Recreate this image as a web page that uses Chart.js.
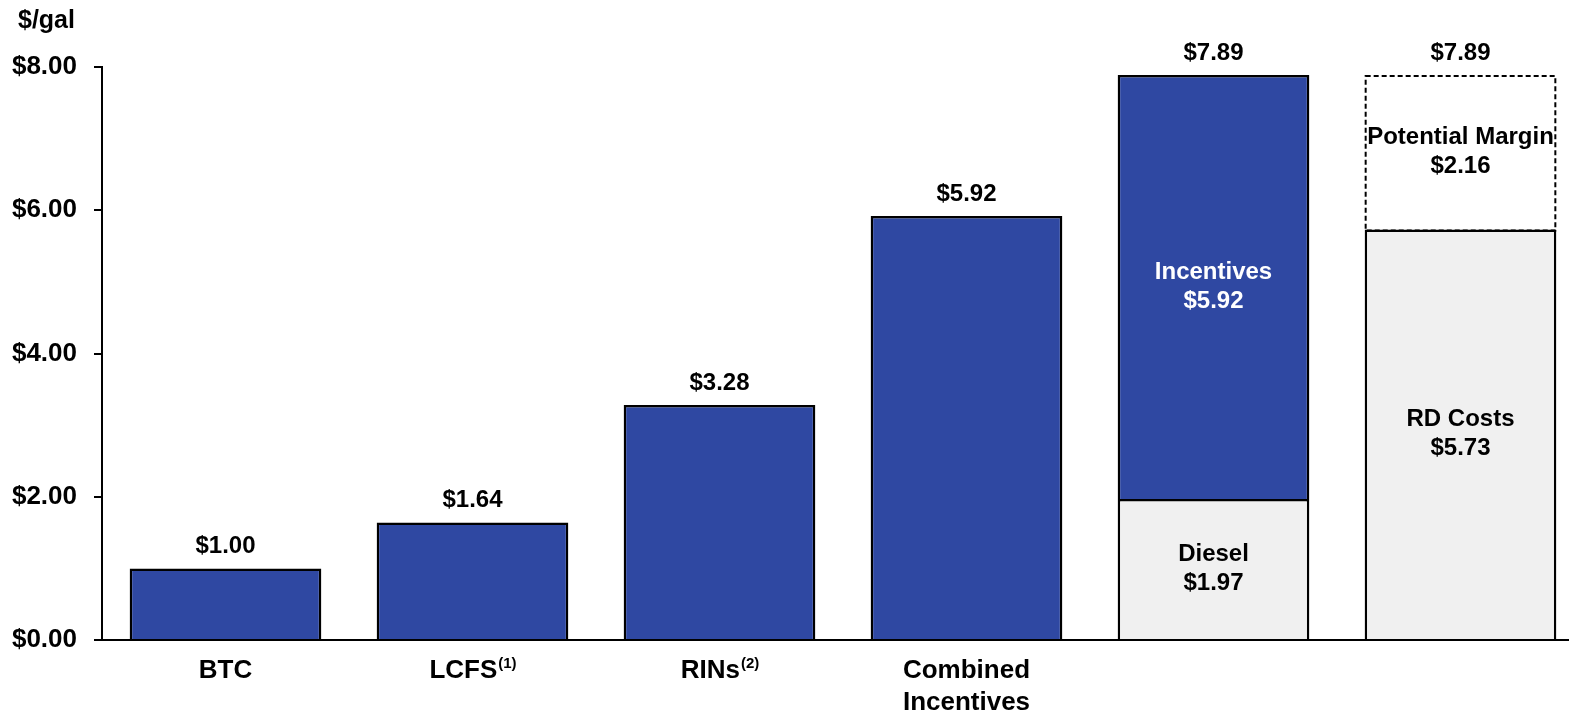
<!DOCTYPE html>
<html>
<head>
<meta charset="utf-8">
<script src="https://cdn.jsdelivr.net/npm/chart.js@4/dist/chart.umd.min.js"></script>
<style>
  html, body { margin: 0; padding: 0; background: #fff; overflow: hidden; }
  #wrap { width: 1584px; height: 715px; position: relative; }
</style>
</head>
<body>
<div id="wrap"><canvas id="c"></canvas></div>
<script>
// Category labels along the x axis (main text lines and superscript notes)
const categoryLines = [['BTC'], ['LCFS'], ['RINs'], ['Combined', 'Incentives'], [], []];
const categoryNotes = ['', '(1)', '(2)', '', '', ''];

// Stack segments, $/gal
const baseValues      = [null, null, null, null, 1.97, 5.73];   // Diesel / RD Costs
const incentiveValues = [1.00, 1.64, 3.28, 5.92, 5.92, null];   // Incentives
const marginValues    = [null, null, null, null, null, 2.16];   // Potential Margin

// Names written inside segments
const baseNames      = [null, null, null, null, 'Diesel', 'RD Costs'];
const incentiveNames = [null, null, null, null, 'Incentives', null];
const marginNames    = [null, null, null, null, null, 'Potential Margin'];

// Y axis ticks
const yTicks = [0, 2, 4, 6, 8];
const yUnit = '$/gal';

const BLUE = '#2F48A2';
const GREY = '#F0F0F0';
const FONT = '"Liberation Sans", Arial, sans-serif';

const money = v => '$' + v.toFixed(2);

const labelPlugin = {
  id: 'labelPlugin',
  afterDatasetsDraw(chart) {
    const ctx = chart.ctx;
    const x = chart.scales.x, y = chart.scales.y;
    ctx.save();

    // dashed outline for the margin segment
    const mMeta = chart.getDatasetMeta(2);
    mMeta.data.forEach((el, i) => {
      if (marginValues[i] == null) return;
      const p = el.getProps(['x', 'y', 'base', 'width'], true);
      ctx.setLineDash([5, 3]);
      ctx.lineWidth = 2;
      ctx.strokeStyle = '#000';
      ctx.strokeRect(p.x - p.width / 2 + 1, p.y + 1, p.width - 2, p.base - p.y);
      ctx.setLineDash([]);
    });

    // names + values inside segments
    const segs = [
      [0, baseValues, baseNames, '#000'],
      [1, incentiveValues, incentiveNames, '#fff'],
      [2, marginValues, marginNames, '#000']
    ];
    ctx.font = 'bold 24px ' + FONT;
    ctx.textAlign = 'center';
    ctx.textBaseline = 'middle';
    segs.forEach(([di, vals, names, col]) => {
      const meta = chart.getDatasetMeta(di);
      meta.data.forEach((el, i) => {
        if (!names[i] || vals[i] == null) return;
        const p = el.getProps(['x', 'y', 'base'], true);
        const cy = (p.y + p.base) / 2;
        ctx.fillStyle = col;
        ctx.fillText(names[i], p.x, cy - 14.5);
        ctx.fillText(money(vals[i]), p.x, cy + 14.5);
      });
    });

    // totals above each bar
    ctx.fillStyle = '#000';
    categoryLines.forEach((_, i) => {
      const total = (baseValues[i] || 0) + (incentiveValues[i] || 0) + (marginValues[i] || 0);
      const px = x.getPixelForValue(i);
      const py = y.getPixelForValue(total);
      ctx.fillText(money(total), px, py - 22);
    });

    // category labels with superscript notes
    categoryLines.forEach((lines, i) => {
      const px = x.getPixelForValue(i);
      lines.forEach((line, li) => {
        const ly = 671 + li * 32;
        const note = li === 0 ? categoryNotes[i] : '';
        ctx.font = 'bold 26px ' + FONT;
        const w1 = ctx.measureText(line).width;
        ctx.font = 'bold 15px ' + FONT;
        const w2 = note ? ctx.measureText(note).width : 0;
        const left = px - (w1 + w2) / 2;
        ctx.textAlign = 'left';
        ctx.font = 'bold 26px ' + FONT;
        ctx.fillText(line, left, ly);
        if (note) {
          ctx.font = 'bold 15px ' + FONT;
          ctx.fillText(note, left + w1 + 1, ly - 7);
        }
      });
    });

    // unit caption
    ctx.font = 'bold 25px ' + FONT;
    ctx.textAlign = 'left';
    ctx.fillText(yUnit, 18, 21);
    ctx.restore();
  }
};

new Chart(document.getElementById('c'), {
  type: 'bar',
  data: {
    labels: categoryLines.map(l => l.join(' ')),
    datasets: [
      { label: 'Base', data: baseValues, backgroundColor: GREY, borderColor: '#000', borderWidth: 2.5 },
      { label: 'Incentives', data: incentiveValues, backgroundColor: BLUE, borderColor: '#000', borderWidth: 2.5 },
      { label: 'Potential Margin', data: marginValues, backgroundColor: '#fff', borderWidth: 0 }
    ]
  },
  options: {
    responsive: true,
    maintainAspectRatio: false,
    animation: false,
    devicePixelRatio: 1,
    layout: { padding: { top: 67, left: 0, right: 0, bottom: 0 } },
    datasets: { bar: { categoryPercentage: 1, barPercentage: 0.776 } },
    plugins: { legend: { display: false }, tooltip: { enabled: false } },
    scales: {
      x: {
        stacked: true,
        grid: { display: false },
        border: { display: true, color: '#000', width: 2 },
        ticks: { display: false },
        afterFit: s => { s.height = 75; }
      },
      y: {
        stacked: true,
        min: 0, max: 8,
        afterBuildTicks: s => { s.ticks = yTicks.map(v => ({ value: v })); },
        grid: { drawOnChartArea: false, drawTicks: true, tickLength: 8, color: '#000', lineWidth: 2 },
        border: { display: true, color: '#000', width: 2 },
        ticks: {
          padding: 17,
          color: '#000',
          font: { family: FONT, size: 26, weight: 'bold' },
          callback: v => money(v)
        },
        afterFit: s => { s.width = 102; }
      }
    }
  },
  plugins: [labelPlugin]
});
</script>
</body>
</html>
